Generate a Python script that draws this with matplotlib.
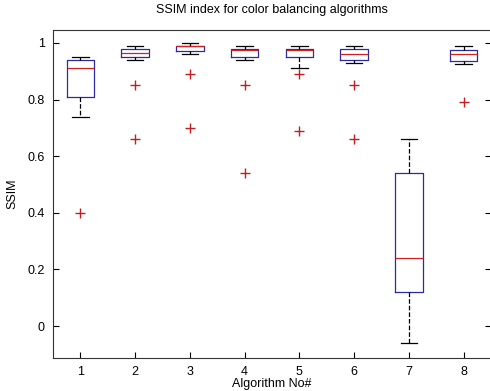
import matplotlib.pyplot as plt

plt.rcParams['font.family'] = ['Liberation Sans', 'DejaVu Sans']

# box statistics (one entry per algorithm)
algoritmos = [1, 2, 3, 4, 5, 6, 7, 8]
whis_lo = [0.74, 0.94, 0.96, 0.94, 0.91, 0.93, -0.06, 0.925]
q1 = [0.81, 0.95, 0.97, 0.95, 0.95, 0.94, 0.12, 0.935]
mediana = [0.91, 0.965, 0.99, 0.975, 0.975, 0.96, 0.24, 0.96]
q3 = [0.94, 0.98, 0.99, 0.98, 0.98, 0.98, 0.54, 0.975]
whis_hi = [0.95, 0.99, 1.0, 0.99, 0.99, 0.99, 0.66, 0.99]
outliers = [[0.40], [0.85, 0.66], [0.89, 0.70], [0.85, 0.54],
            [0.89, 0.69], [0.85, 0.66], [], [0.79]]

stats = []
for i in range(len(algoritmos)):
    stats.append({'whislo': whis_lo[i], 'q1': q1[i], 'med': mediana[i],
                  'q3': q3[i], 'whishi': whis_hi[i], 'fliers': outliers[i]})

fig = plt.figure(figsize=(4.9, 3.91), dpi=100)
ax = fig.add_axes([0.108, 0.0844, 0.894, 0.839])

ax.bxp(stats, positions=algoritmos, widths=0.5, capwidths=0.3,
       boxprops=dict(color='#2b2ba0', linewidth=0.9),
       medianprops=dict(color='#d02020', linewidth=0.9),
       whiskerprops=dict(color='black', linestyle='--', linewidth=0.9),
       capprops=dict(color='black', linewidth=0.9),
       flierprops=dict(marker='+', markeredgecolor='#c02020', markersize=7,
                       linestyle='none'))

ax.set_xlim(0.5, 8.5)
ax.set_ylim(-0.113, 1.046)
ax.set_xticks(algoritmos)
ax.set_xticklabels([str(a) for a in algoritmos])
ax.set_yticks([0, 0.2, 0.4, 0.6, 0.8, 1.0])
ax.set_yticklabels(['0', '0.2', '0.4', '0.6', '0.8', '1'])
ax.tick_params(direction='in', right=True, labelsize=9, length=4, pad=6)
for s in ax.spines.values():
    s.set_color('#333333')

ax.set_title('SSIM index for color balancing algorithms', fontsize=9, pad=12)
ax.set_ylabel('SSIM', fontsize=9, labelpad=6)
ax.set_xlabel('Algorithm No#', fontsize=9, labelpad=0)

fig.savefig('out.png', dpi=100)
